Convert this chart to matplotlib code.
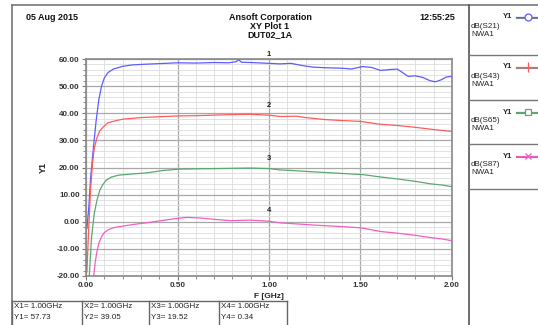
import matplotlib
matplotlib.use("Agg")
import matplotlib.pyplot as plt
import numpy as np

plt.rcParams['font.family'] = ['Liberation Sans', 'DejaVu Sans']

# --- data (F in GHz, Y1 in dB) ---
f_s21 = [0.005, 0.015, 0.025, 0.04, 0.055, 0.07, 0.085, 0.10, 0.12, 0.15, 0.20, 0.25, 0.30, 0.40,
         0.50, 0.60, 0.70, 0.78, 0.82, 0.835, 0.85, 0.90, 1.00, 1.06, 1.12, 1.18, 1.24, 1.30, 1.40,
         1.45, 1.51, 1.56, 1.61, 1.66, 1.70, 1.73, 1.76, 1.80, 1.84, 1.88, 1.91, 1.94, 1.97, 2.00]
s21 = [-2.5, 5, 16, 27, 37, 45, 50, 53, 55, 56.3, 57.3, 57.8, 58.0, 58.3,
       58.6, 58.5, 58.7, 58.6, 59.0, 59.7, 58.8, 58.7, 58.4, 58.2, 58.4, 57.6, 57.0, 56.8, 56.6,
       56.3, 57.2, 56.9, 55.8, 56.1, 56.3, 55.0, 53.6, 53.8, 53.2, 52.0, 51.6, 52.3, 53.4, 53.6]

f_s43 = [0.005, 0.015, 0.025, 0.035, 0.045, 0.06, 0.075, 0.095, 0.12, 0.16, 0.20, 0.30, 0.40, 0.50,
         0.60, 0.70, 0.80, 0.90, 1.00, 1.06, 1.15, 1.20, 1.30, 1.40, 1.50, 1.60, 1.70, 1.80, 1.90, 2.00]
s43 = [-18.5, -2, 12, 21, 27, 31, 33.5, 35, 36.5, 37.2, 37.8, 38.4, 38.7, 39.0,
       39.1, 39.3, 39.5, 39.6, 39.3, 38.8, 38.9, 38.4, 37.7, 37.3, 37.0, 36.0, 35.5, 34.8, 34.0, 33.3]

f_s65 = [0.018, 0.03, 0.045, 0.06, 0.075, 0.09, 0.11, 0.14, 0.18, 0.25, 0.33, 0.42, 0.51, 0.60,
         0.70, 0.80, 0.90, 1.00, 1.06, 1.15, 1.24, 1.35, 1.45, 1.51, 1.61, 1.70, 1.80, 1.88, 1.95, 2.00]
s65 = [-20, -6, 3, 8, 11.5, 13.5, 15.3, 16.5, 17.2, 17.6, 18.0, 18.9, 19.4, 19.5,
       19.6, 19.7, 19.8, 19.6, 19.1, 18.8, 18.4, 18.0, 17.6, 17.4, 16.5, 15.8, 14.9, 14.0, 13.5, 12.9]

f_s87 = [0.042, 0.05, 0.06, 0.07, 0.085, 0.10, 0.12, 0.15, 0.20, 0.27, 0.33, 0.40, 0.47, 0.55, 0.62,
         0.70, 0.79, 0.90, 1.00, 1.06, 1.15, 1.24, 1.35, 1.45, 1.51, 1.61, 1.70, 1.80, 1.88, 1.95, 2.00]
s87 = [-20, -15, -11, -8, -5.5, -4, -3, -2.2, -1.6, -0.9, -0.4, 0.3, 1.0, 1.6, 1.4,
       0.9, 0.4, 0.6, 0.2, -0.4, -0.8, -1.2, -1.6, -2.0, -2.3, -3.6, -4.2, -5.0, -5.8, -6.4, -7.0]

trace_names = ['dB(S21)', 'dB(S43)', 'dB(S65)', 'dB(S87)']
trace_colors = ['#5c5cff', '#ff5c5c', '#5aa870', '#f060c0']
trace_markers = ['o', '|', 's', 'x']
marker_x = [1.00, 1.00, 1.00, 1.00]
marker_y = [57.73, 39.05, 19.52, 0.34]

W, H = 538, 325
fig = plt.figure(figsize=(W / 100, H / 100), dpi=100)
fig.patch.set_facecolor('white')

# main plot area
ax = fig.add_axes([86 / W, 1 - 276 / H, 366 / W, 217 / H])
series = [(f_s21, s21), (f_s43, s43), (f_s65, s65), (f_s87, s87)]
for (fx, fy), c in zip(series, trace_colors):
    ax.plot(fx, fy, color=c, lw=0.9)

for i, (mx, my) in enumerate(zip(marker_x, marker_y)):
    ax.text(mx, my + 2.6, str(i + 1), fontsize=5.5, fontweight='bold', color='#222222',
            ha='center', va='bottom')

ax.set_xlim(0, 2)
ax.set_ylim(-20, 60)
ax.set_xticks(np.arange(0, 2.01, 0.5))
ax.set_xticks(np.arange(0, 2.01, 0.1), minor=True)
ax.set_yticks(np.arange(-20, 61, 10))
ax.set_yticks(np.arange(-20, 61, 2), minor=True)
ax.set_xticklabels(['%.2f' % v for v in np.arange(0, 2.01, 0.5)])
ax.set_yticklabels(['%.2f' % v for v in np.arange(-20, 61, 10)])
ax.grid(which='major', color='#a8a8a8', lw=0.9)
ax.grid(which='minor', color='#dcdcdc', lw=0.6)
ax.set_axisbelow(True)
ax.tick_params(which='both', direction='out', color='#777777', labelsize=5.8, pad=1.5)
ax.tick_params(which='major', length=3)
ax.tick_params(which='minor', length=2)
for lab in ax.get_xticklabels() + ax.get_yticklabels():
    lab.set_fontweight('bold')
    lab.set_color('#333333')
for sp in ax.spines.values():
    sp.set_color('#888888')
    sp.set_linewidth(1.2)
ax.set_xlabel('F [GHz]', fontsize=6, fontweight='bold', labelpad=3, color='#222222')
ax.set_ylabel('Y1', fontsize=6.5, fontweight='bold', labelpad=6, color='#222222')

# overlay in pixel coordinates for frame, header, legend and marker table
ov = fig.add_axes([0, 0, 1, 1], zorder=5)
ov.set_xlim(0, W)
ov.set_ylim(H, 0)
ov.axis('off')
ov.patch.set_alpha(0)

frame_c = '#777777'
ov.plot([12, 12], [5, H], color=frame_c, lw=1.2)
ov.plot([12, W], [5, 5], color=frame_c, lw=1.2)
ov.plot([469, 469], [5, H], color='#555555', lw=1.2)

hdr = dict(fontsize=6.5, fontweight='bold', color='#111111', va='center')
ov.text(26, 18, '05 Aug 2015', ha='left', **hdr)
ov.text(270, 18, 'Ansoft Corporation', ha='center', **hdr)
ov.text(270, 26.5, 'XY Plot 1', ha='center', **hdr)
ov.text(270, 35, 'DUT02_1A', ha='center', **hdr)
ov.text(455, 18, '12:55:25', ha='right', **hdr)

# legend panel
box_top = [5, 55, 100, 144]
box_lines = [55, 100, 144, 189]
for yl in box_lines:
    ov.plot([469, W], [yl, yl], color='#777777', lw=1.0)
for i, name in enumerate(trace_names):
    y0 = box_top[i] + 12
    ov.text(512, y0, 'Y1', fontsize=5.5, fontweight='bold', color='#222222', ha='right', va='center')
    ov.plot([516, W], [y0 + 1.2, y0 + 1.2], color='#888888', lw=0.8)
    ov.plot([516, W], [y0, y0], color=trace_colors[i], lw=0.9)
    mk = trace_markers[i]
    filled = mk in ('|', 'x')
    ov.plot([528], [y0], marker=mk, ms=5 if mk != '|' else 7,
            mfc=trace_colors[i] if filled else 'white', mec=trace_colors[i], mew=0.9)
    ov.text(471, y0 + 9, name, fontsize=5.8, color='#222222', ha='left', va='center')
    ov.text(471, y0 + 17, 'NWA1', fontsize=5.8, color='#222222', ha='left', va='center')

# marker table
cells = [12, 82, 149, 219, 287]
ov.plot([12, 287], [301, 301], color='#666666', lw=1.0)
for cx in cells:
    ov.plot([cx, cx], [301, H], color='#666666', lw=1.0)
for i in range(4):
    ov.text(cells[i] + 2, 307, 'X%d= %.2fGHz' % (i + 1, marker_x[i]), fontsize=5.8,
            color='#222222', ha='left', va='center')
    ov.text(cells[i] + 2, 317.5, 'Y%d= %.2f' % (i + 1, marker_y[i]), fontsize=5.8,
            color='#222222', ha='left', va='center')

fig.savefig('out.png', dpi=100, facecolor='white')
